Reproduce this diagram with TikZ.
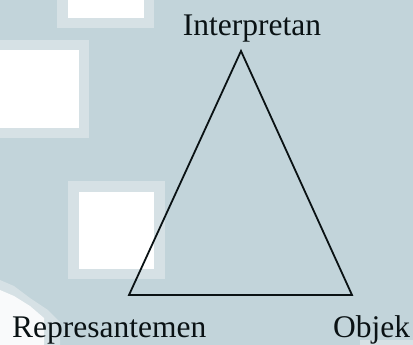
\documentclass[tikz,border=0pt]{standalone}
\usepackage{fontspec}
\setmainfont{Liberation Serif}
\definecolor{bg}{RGB}{194,212,218}
\definecolor{edge}{RGB}{214,225,229}
\definecolor{ink}{RGB}{10,18,20}
\begin{document}
\begin{tikzpicture}[x=1pt,y=-1pt,
  lbl/.style={inner sep=0pt,font=\fontsize{31.5}{31.5}\selectfont,text=ink},
  tri/.style={draw=ink,line width=1.8pt,line join=miter}]
\useasboundingbox (0,0) rectangle (413,345);
\fill[bg] (0,0) rectangle (413,345);
% light squares
\fill[edge] (57,0) rectangle (154,28);
\fill[white] (68,0) rectangle (144,18);
\fill[edge] (0,40) rectangle (89,138);
\fill[white] (0,50) rectangle (79,128);
\fill[edge] (68,181) rectangle (165,279);
\fill[white] (79,192) rectangle (154,269);
% bottom-left light patch
\fill[edge] (0,280) -- (14,286) -- (30,298) -- (48,310) -- (60,322) -- (60,345) -- (0,345) -- cycle;
\fill[white!85!edge] (0,290) -- (14,296) -- (30,306) -- (44,318) -- (44,345) -- (0,345) -- cycle;
\fill[edge] (360,340) rectangle (413,345);
% triangle
\coordinate (top) at (241,51);
\coordinate (bl) at (129,295);
\coordinate (br) at (352,295);
\draw[tri] (top) -- (br) -- (bl) -- cycle;
% labels
\node[lbl,anchor=base] (interp) at (252,36) {Interpretan};
\node[lbl,anchor=base west] (rep) at (12,337) {Represantemen};
\node[lbl,anchor=base west] (obj) at (333,337) {Objek};
\end{tikzpicture}
\end{document}
